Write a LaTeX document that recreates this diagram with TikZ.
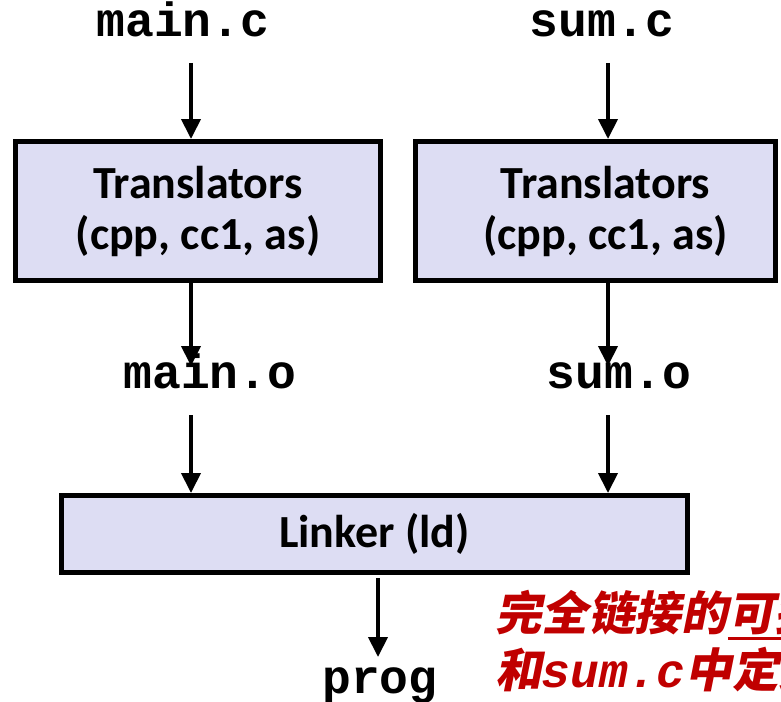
\documentclass[tikz,border=0pt]{standalone}
\usepackage{fontspec}
\setmainfont{Carlito}
\newfontfamily\codefont{Liberation Mono}
\newfontfamily\cjkfont[FakeSlant=0.2]{Noto Sans CJK SC}
\usetikzlibrary{arrows.meta,calc}

\definecolor{boxfill}{RGB}{221,221,243}
\definecolor{notered}{RGB}{192,0,0}

\tikzset{
  stage/.style={draw=black, line width=5pt, fill=boxfill, inner sep=0pt,
    align=center, font=\fontsize{46}{51}\selectfont\bfseries},
  file/.style={inner sep=0pt, anchor=base,
    font=\codefont\bfseries\fontsize{48}{48}\selectfont},
  flow/.style={line width=4pt, -{Triangle[width=19pt,length=20pt]}},
  notetext/.style={inner sep=0pt, anchor=base west, text=notered,
    font=\fontsize{46.5}{52}\selectfont\bfseries}
}

\begin{document}
\begin{tikzpicture}[x=1pt, y=-1pt]
  \useasboundingbox (0,0) rectangle (781,701);
  \clip (0,0) rectangle (781,701);

  % source files
  \node[file] (mainc) at (183,37) {main.c};
  \node[file] (sumc)  at (602,37) {sum.c};

  % translator boxes
  \node[stage, minimum width=365pt, minimum height=139pt] (trL) at (198,211)
    {Translators\\(cpp, cc1, as)};
  \node[stage, minimum width=360pt, minimum height=139pt] (trR) at (595.5,211)
    {\hspace*{20pt}Translators\\\hspace*{20pt}(cpp, cc1, as)};

  % object files
  \node[file] (maino) at (210,388) {main.o};
  \node[file] (sumo)  at (619,388) {sum.o};

  % linker
  \node[stage, minimum width=626pt, minimum height=77pt] (ld) at (374.5,534)
    {Linker (ld)};

  % executable
  \node[file] (prog) at (380,693) {prog};

  % arrow start / end points
  \coordinate (aL1) at (191,63);
  \coordinate (aL2) at (191,366);
  \coordinate (aL3) at (191,415);
  \coordinate (aR1) at (608,63);
  \coordinate (aR2) at (608,366);
  \coordinate (aR3) at (608,415);
  \coordinate (aP1) at (378,578);
  \coordinate (aP2) at (378,657);

  \draw[flow] (aL1) -- (aL1 |- trL.north);
  \draw[flow] (trL.south -| aL2) -- (aL2);
  \draw[flow] (aL3) -- (aL3 |- ld.north);
  \draw[flow] (aR1) -- (aR1 |- trR.north);
  \draw[flow] (trR.south -| aR2) -- (aR2);
  \draw[flow] (aR3) -- (aR3 |- ld.north);
  \draw[flow] (aP1) -- (aP2);

  % annotation
  \node[notetext] (noteA) at (495,630) {\cjkfont 完全链接的};
  \node[notetext] (noteB) at (noteA.base east) {\cjkfont 可执行目标文件};
  \draw[notered, line width=3pt] ($(noteB.base west)+(0,8)$) -- ($(noteB.base east)+(0,8)$);
  \node[notetext] (noteC) at (495,687)
    {\cjkfont 和\codefont\bfseries\itshape\fontsize{48}{52}\selectfont sum.c\cjkfont\bfseries\fontsize{46.5}{52}\selectfont 中定义};
\end{tikzpicture}
\end{document}
